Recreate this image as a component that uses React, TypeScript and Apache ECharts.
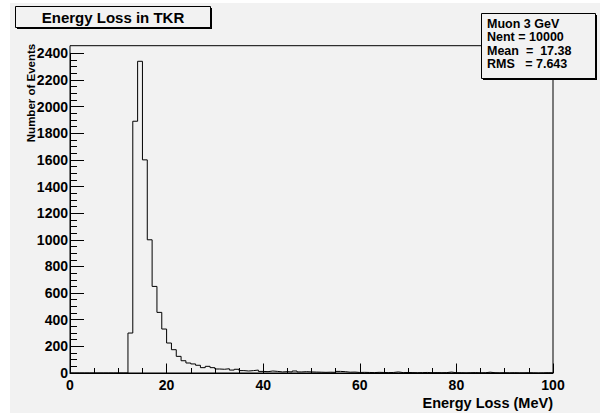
import React, { useEffect, useRef } from "react";
import * as echarts from "echarts";

// Histogram: 100 bins of 1 MeV from 0 to 100 MeV (counts per bin)
const binEdgesStart = 0;
const binWidth = 1;
const counts: number[] = [
  0, 0, 0, 0, 0, 0, 0, 0, 0, 0,
  0, 0, 300, 1890, 2340, 1600, 1000, 650, 455, 330,
  225, 175, 125, 92, 75, 68, 58, 40, 50, 40,
  30, 28, 32, 22, 28, 18, 15, 18, 22, 12,
  10, 15, 12, 8, 10, 8, 15, 8, 10, 8,
  7, 6, 5, 6, 5, 12, 10, 6, 7, 4,
  5, 4, 3, 5, 4, 3, 4, 8, 3, 4,
  3, 2, 3, 4, 2, 3, 2, 3, 7, 2,
  2, 1, 2, 3, 1, 2, 6, 2, 1, 2,
  1, 2, 1, 1, 2, 1, 0, 1, 2, 1,
];

const titleText = "Energy Loss in TKR";
const statsLines = ["Muon 3 GeV", "Nent = 10000", "Mean  =  17.38", "RMS   = 7.643"];
const xAxisTitle = "Energy Loss (MeV)";
const yAxisTitle = "Number of Events";

const FONT = "'Liberation Sans', Arial, Helvetica, sans-serif";
const BG = "#f2f2f2";

export default function App() {
  const ref = useRef<HTMLDivElement>(null);

  useEffect(() => {
    if (!ref.current) return;
    const chart = echarts.init(ref.current, undefined, { renderer: "svg" });

    const stepData: [number, number][] = counts.map((c, i) => [binEdgesStart + i * binWidth, c]);
    stepData.push([binEdgesStart + counts.length * binWidth, counts[counts.length - 1]]);

    const frameL = 70, frameR = 553, frameT = 45.7, frameB = 373;

    const option: echarts.EChartsOption = {
      animation: false,
      backgroundColor: "#ffffff",
      grid: { left: frameL, right: 600 - frameR, top: 53.3, bottom: 413 - frameB, containLabel: false },
      xAxis: {
        type: "value",
        min: 0,
        max: 100,
        interval: 20,
        axisLine: { show: true, lineStyle: { color: "#000", width: 1 } },
        axisTick: { show: true, inside: true, length: 9.5, lineStyle: { color: "#000" } },
        minorTick: { show: true, splitNumber: 4, length: 5, lineStyle: { color: "#000" } },
        splitLine: { show: false },
        minorSplitLine: { show: false },
        axisLabel: {
          color: "#000", fontFamily: FONT, fontWeight: "bold", fontSize: 14, margin: 5,
          formatter: (v: number) => String(v),
        },
      },
      yAxis: {
        type: "value",
        min: 0,
        max: 2400,
        interval: 200,
        axisLine: { show: true, lineStyle: { color: "#000", width: 1 } },
        axisTick: { show: true, inside: true, length: 14, lineStyle: { color: "#000" } },
        minorTick: { show: true, splitNumber: 4, length: 7, lineStyle: { color: "#000" } },
        splitLine: { show: false },
        minorSplitLine: { show: false },
        axisLabel: {
          color: "#000", fontFamily: FONT, fontWeight: "bold", fontSize: 14, margin: 2,
          formatter: (v: number) => String(v),
        },
      },
      series: [
        {
          type: "line",
          step: "end",
          data: stepData,
          symbol: "none",
          lineStyle: { color: "#000", width: 1 },
          z: 5,
        },
      ],
      graphic: [
        { type: "rect", z: -10, shape: { x: 10, y: 3, width: 590, height: 410 }, style: { fill: BG } },
        {
          type: "rect",
          z: 10,
          shape: { x: frameL, y: frameT, width: frameR - frameL, height: frameB - frameT },
          style: { fill: "none", stroke: "#000", lineWidth: 1 },
        },
        // title box
        { type: "rect", z: 20, shape: { x: 17, y: 8, width: 195, height: 21 }, style: { fill: "#000" } },
        { type: "rect", z: 21, shape: { x: 15.5, y: 6.5, width: 195, height: 21 }, style: { fill: BG, stroke: "#000", lineWidth: 1 } },
        {
          type: "text", z: 22, x: 113, y: 17,
          style: { text: titleText, font: `bold 15px ${FONT}`, fill: "#000", align: "center", verticalAlign: "middle" },
        },
        // stats box
        { type: "rect", z: 20, shape: { x: 483, y: 15, width: 114, height: 65 }, style: { fill: "#000" } },
        { type: "rect", z: 21, shape: { x: 481.5, y: 13.5, width: 114, height: 65 }, style: { fill: BG, stroke: "#000", lineWidth: 1 } },
        ...statsLines.map((t, i) => ({
          type: "text" as const, z: 22, x: 487, y: 23.5 + i * 13.6,
          style: { text: t, font: `bold 12.5px ${FONT}`, fill: "#000", align: "left" as const, verticalAlign: "middle" as const },
        })),
        // axis titles
        {
          type: "text", z: 22, x: 553, y: 403,
          style: { text: xAxisTitle, font: `bold 14.5px ${FONT}`, fill: "#000", align: "right", verticalAlign: "middle" },
        },
        {
          type: "text", z: 22, x: 31, y: 93, rotation: Math.PI / 2,
          style: { text: yAxisTitle, font: `bold 11.5px ${FONT}`, fill: "#000", align: "center", verticalAlign: "middle" },
        },
      ],
    };

    chart.setOption(option);
    return () => chart.dispose();
  }, []);

  return (
    <div
      ref={ref}
      style={{ position: "absolute", left: 0, top: 0, width: 600, height: 413 }}
    />
  );
}
